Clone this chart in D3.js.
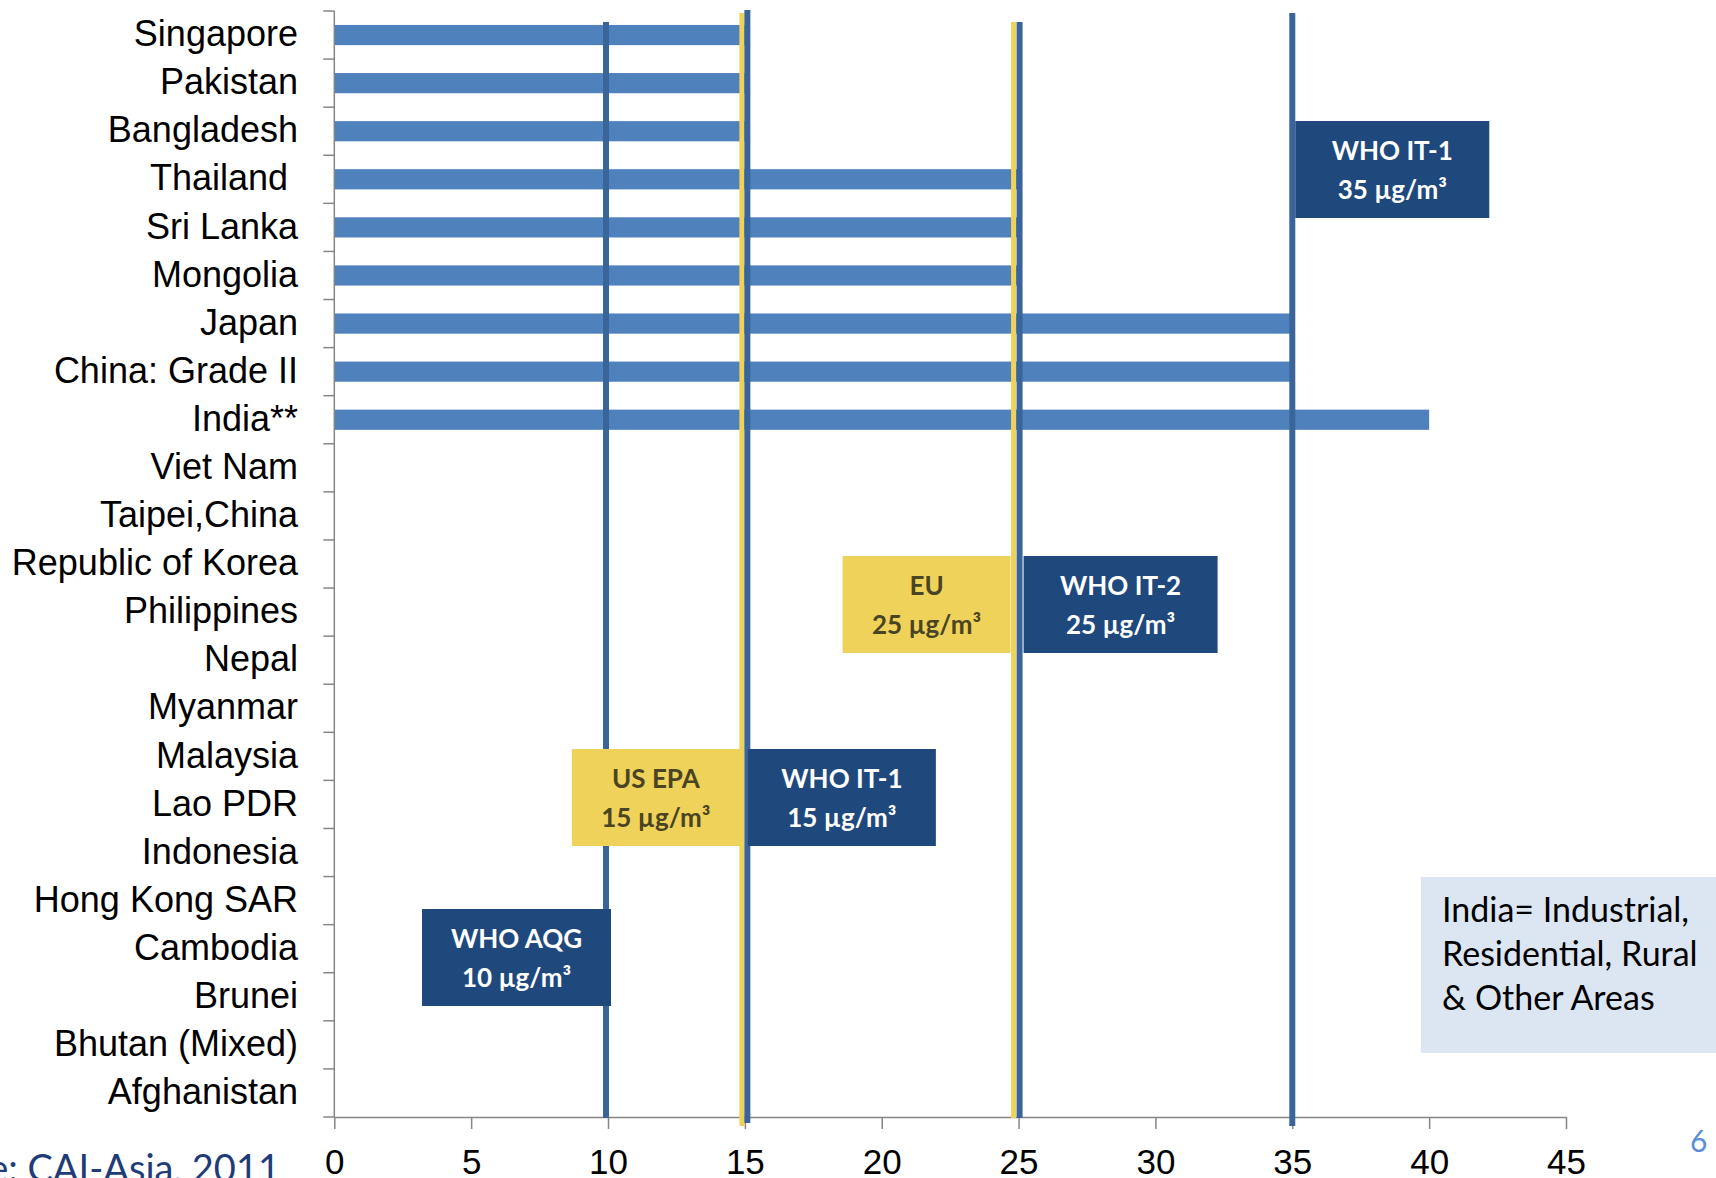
<!DOCTYPE html>
<html>
<head>
<meta charset="utf-8">
<script src="https://cdn.jsdelivr.net/npm/d3@7"></script>
<style>
  html, body { margin: 0; padding: 0; background: #fff; }
  svg { display: block; }
</style>
</head>
<body>
<svg id="chart"></svg>
<script>
// PM2.5 annual standards by country (ug/m3), top to bottom as in the chart
const countries = ["Singapore", "Pakistan", "Bangladesh", "Thailand\u00a0", "Sri Lanka", "Mongolia", "Japan",
  "China: Grade II", "India**", "Viet Nam", "Taipei,China", "Republic of Korea", "Philippines", "Nepal",
  "Myanmar", "Malaysia", "Lao PDR", "Indonesia", "Hong Kong SAR", "Cambodia", "Brunei", "Bhutan (Mixed)", "Afghanistan"];
const standards = [15, 15, 15, 25, 25, 25, 35, 35, 40, null, null, null, null, null,
  null, null, null, null, null, null, null, null, null];

const xTicks = [0, 5, 10, 15, 20, 25, 30, 35, 40, 45];

// reference lines (WHO = blue, others = yellow)
const refValues = [10, 15, 15, 25, 25, 35];
const refKinds  = ["who", "other", "who", "other", "who", "who"];

// annotation boxes
const boxValues = [35, 25, 25, 15, 15, 10];
const boxTitles = ["WHO IT-1", "EU", "WHO IT-2", "US EPA", "WHO IT-1", "WHO AQG"];
const boxUnits  = ["35 \u00b5g/m\u00b3", "25 \u00b5g/m\u00b3", "25 \u00b5g/m\u00b3", "15 \u00b5g/m\u00b3", "15 \u00b5g/m\u00b3", "10 \u00b5g/m\u00b3"];
const boxKinds  = ["who", "other", "who", "other", "who", "who"];

const noteLines = ["India= Industrial,", "Residential, Rural", "& Other Areas"];

const W = 1716, H = 1178;
const svg = d3.select("#chart").attr("width", W).attr("height", H);

const x = d3.scaleLinear().domain([0, 45]).range([334.3, 1566]);
const y = d3.scaleBand().domain(countries).range([11, 1117]).paddingInner(0.58).paddingOuter(0.29);

const blue = "#4F81BD", lineBlue = "#3A659A", dark = "#1F497D", yellow = "#EFD25A", grey = "#868686";

// bars
svg.append("g")
  .selectAll("rect")
  .data(countries.map((c, i) => ({c, v: standards[i]})).filter(d => d.v != null))
  .join("rect")
    .attr("x", x(0))
    .attr("y", d => y(d.c))
    .attr("width", d => x(d.v) - x(0))
    .attr("height", y.bandwidth())
    .attr("fill", blue);

// y axis: line, ticks at slot boundaries, labels
const yAxis = svg.append("g");
yAxis.append("line")
  .attr("x1", x(0)).attr("x2", x(0))
  .attr("y1", 11).attr("y2", 1117)
  .attr("stroke", grey).attr("stroke-width", 1.5);
yAxis.selectAll("line.tk")
  .data(d3.range(countries.length + 1))
  .join("line")
    .attr("class", "tk")
    .attr("x1", x(0) - 11).attr("x2", x(0))
    .attr("y1", i => 11 + i * y.step())
    .attr("y2", i => 11 + i * y.step())
    .attr("stroke", grey).attr("stroke-width", 1.5);
yAxis.selectAll("text")
  .data(countries)
  .join("text")
    .attr("x", 298)
    .attr("y", d => y(d) + y.bandwidth() / 2)
    .attr("dy", "0.31em")
    .attr("text-anchor", "end")
    .style("white-space", "pre")
    .style("font", "36px 'Liberation Sans', Arial, sans-serif")
    .attr("fill", "#000")
    .text(d => d);

// x axis
const xAxis = svg.append("g")
  .attr("transform", "translate(0,1117)")
  .call(d3.axisBottom(x).tickValues(xTicks).tickSize(12).tickSizeOuter(0));
xAxis.select(".domain").attr("stroke", grey).attr("stroke-width", 1.5);
xAxis.selectAll(".tick line").attr("stroke", grey).attr("stroke-width", 1.5);
xAxis.selectAll(".tick text")
  .attr("y", 57).attr("dy", 0)
  .attr("fill", "#000")
  .style("font", "35px 'Liberation Sans', Arial, sans-serif");

// reference lines
const refStyle = {
  who:   {color: lineBlue, w: 6},
  other: {color: yellow, w: 5}
};
const refExtent = [[22, 1118], [13, 1126], [10, 1123], [22, 1118], [22, 1118], [13, 1126]];
const refShift = [-2, -3, 2.5, -5, 1, 0];
svg.append("g")
  .selectAll("line")
  .data(refValues.map((v, i) => ({v, k: refKinds[i], i})))
  .join("line")
    .attr("x1", d => x(d.v) + refShift[d.i])
    .attr("x2", d => x(d.v) + refShift[d.i])
    .attr("y1", d => refExtent[d.i][0])
    .attr("y2", d => refExtent[d.i][1])
    .attr("stroke", d => refStyle[d.k].color)
    .attr("stroke-width", d => refStyle[d.k].w);

// annotation boxes: side and offset relative to their line, size and top in px
const boxLayout = [
  {side: 1, gap: 3, w: 194, top: 121},
  {side: -1, gap: 8, w: 168, top: 556},
  {side: 1, gap: 5, w: 194, top: 556},
  {side: -1, gap: 5, w: 168, top: 749},
  {side: 1, gap: 3, w: 188, top: 749},
  {side: -1, gap: -3, w: 189, top: 909}
];
const boxH = 97;
const boxes = svg.append("g")
  .selectAll("g")
  .data(boxValues.map((v, i) => ({v, i, title: boxTitles[i], unit: boxUnits[i], k: boxKinds[i], L: boxLayout[i]})))
  .join("g")
    .attr("transform", d => {
      const x0 = d.L.side > 0 ? x(d.v) + d.L.gap : x(d.v) - d.L.gap - d.L.w;
      return `translate(${x0},${d.L.top})`;
    });
boxes.append("rect")
  .attr("width", d => d.L.w)
  .attr("height", boxH)
  .attr("fill", d => d.k === "who" ? dark : yellow);
boxes.append("text")
  .attr("x", d => d.L.w / 2)
  .attr("y", 39)
  .text(d => d.title);
boxes.append("text")
  .attr("x", d => d.L.w / 2)
  .attr("y", 78)
  .text(d => d.unit);
boxes.selectAll("text")
  .attr("text-anchor", "middle")
  .attr("fill", function() { return d3.select(this.parentNode).datum().k === "who" ? "#fff" : "#4A4423"; })
  .style("font", "bold 26px Lato, 'Open Sans', sans-serif");

// note box
const note = svg.append("g").attr("transform", "translate(1421,877)");
note.append("rect").attr("width", 300).attr("height", 176).attr("fill", "#DCE6F2");
note.selectAll("text")
  .data(noteLines)
  .join("text")
    .attr("x", 21)
    .attr("y", (d, i) => 45 + i * 44)
    .attr("fill", "#000")
    .style("font", "34px Lato, 'Open Sans', sans-serif")
    .text(d => d);

// source and page number
svg.append("text")
  .attr("x", 280).attr("y", 1182)
  .attr("text-anchor", "end")
  .attr("fill", "#1F3C78")
  .style("font", "38px Lato, 'Open Sans', sans-serif")
  .text("Source: CAI-Asia, 2011");

svg.append("text")
  .attr("x", 1690).attr("y", 1152)
  .attr("fill", "#5B8ED6")
  .style("font", "30px Lato, 'Open Sans', sans-serif")
  .text("6");
</script>
</body>
</html>
